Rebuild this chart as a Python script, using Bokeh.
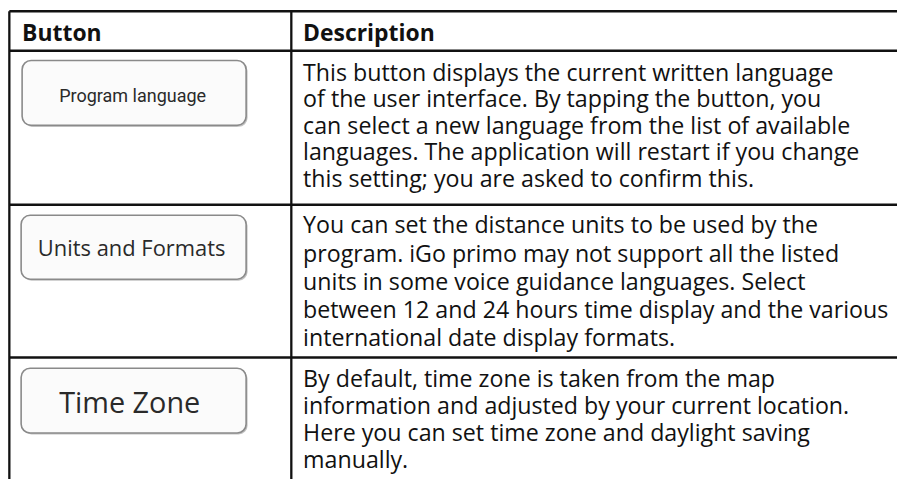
from bokeh.plotting import figure
from bokeh.models import Range1d
from bokeh.core.properties import value
from bokeh.embed import file_html
from bokeh.resources import INLINE

# ---- content ----
headers = ["Button", "Description"]
buttons = ["Program language", "Units and Formats", "Time Zone"]
desc_row1 = [
    "This button displays the current written language",
    "of the user interface. By tapping the button, you",
    "can select a new language from the list of available",
    "languages. The application will restart if you change",
    "this setting; you are asked to confirm this.",
]
desc_row2 = [
    "You can set the distance units to be used by the",
    "program. iGo primo may not support all the listed",
    "units in some voice guidance languages. Select",
    "between 12 and 24 hours time display and the various",
    "international date display formats.",
]
desc_row3 = [
    "By default, time zone is taken from the map",
    "information and adjusted by your current location.",
    "Here you can set time zone and daylight saving",
    "manually.",
]
descriptions = [desc_row1, desc_row2, desc_row3]

# ---- layout (reference pixel coordinates) ----
W, H = 897, 479
REF_W, REF_H = 913, 495
S = 0.975   # font scale (figure is a bit smaller than reference)
BFIX = 0.36  # baseline correction, fraction of font size


def px(v):
    return f"{v * S:.1f}px"


row_tops = [52, 211, 369]
table_top = 11
col_left, col_div, col_right = 9, 296, 913
bottom = 495
line_gap = [27.5, 29.2, 27.7]
first_off = [30, 29, 30]
btn_boxes = [(22, 250, 62, 129), (21, 250, 222, 288), (21, 250, 380, 447)]
btn_fonts = [("Roboto", 18.5, 105, 134.5), ("Open Sans", 22.5, 263, 133.5), ("Open Sans", 29.5, 425, 131.5)]
DESC_FONT = "Open Sans"
DESC_SIZE = 23.8
HEAD_SIZE = 23.5

p = figure(width=W, height=H, x_range=Range1d(0, REF_W), y_range=Range1d(REF_H, 0),
           x_axis_type=None, y_axis_type=None, toolbar_location=None,
           output_backend="svg", min_border=0, outline_line_color=None,
           background_fill_color="white", border_fill_color="white")
p.grid.visible = False

# horizontal rules
hy = [table_top] + row_tops
p.segment(x0=[col_left] * len(hy), y0=hy, x1=[col_right] * len(hy), y1=hy,
          line_color="#111111", line_width=2.5)
# vertical rules
p.segment(x0=[col_left, col_div], y0=[table_top, table_top], x1=[col_left, col_div],
          y1=[bottom, bottom], line_color="#111111", line_width=2.3)

# header texts
hb = 42 - BFIX * HEAD_SIZE
p.text(x=[22, 308], y=[hb, hb], text=headers, text_font=value(DESC_FONT),
       text_font_size=px(HEAD_SIZE), text_font_style="bold", text_color="#111111",
       text_baseline="alphabetic")

# buttons
for (l, r, t, b), label, (fnt, fs, by, cx) in zip(btn_boxes, buttons, btn_fonts):
    p.quad(left=[l + 1.5], right=[r + 1.5], top=[t + 1.5], bottom=[b + 1.5],
           fill_color="#9a9a9a", fill_alpha=0.6, line_color=None, border_radius=9)
    p.quad(left=[l], right=[r], top=[t], bottom=[b], fill_color="#fbfbfb",
           line_color="#8a8a8a", line_width=1.6, border_radius=9)
    p.text(x=[cx], y=[by - BFIX * fs], text=[label], text_font=value(fnt),
           text_font_size=px(fs), text_color="#2a2a2a", text_align="center",
           text_baseline="alphabetic")

# description texts
for i, lines in enumerate(descriptions):
    ys = [row_tops[i] + first_off[i] + k * line_gap[i] - BFIX * DESC_SIZE
          for k in range(len(lines))]
    p.text(x=[308] * len(lines), y=ys, text=lines, text_font=value(DESC_FONT),
           text_font_size=px(DESC_SIZE), text_color="#111111", text_baseline="alphabetic")

open("out.html", "w").write(file_html(p, INLINE))
